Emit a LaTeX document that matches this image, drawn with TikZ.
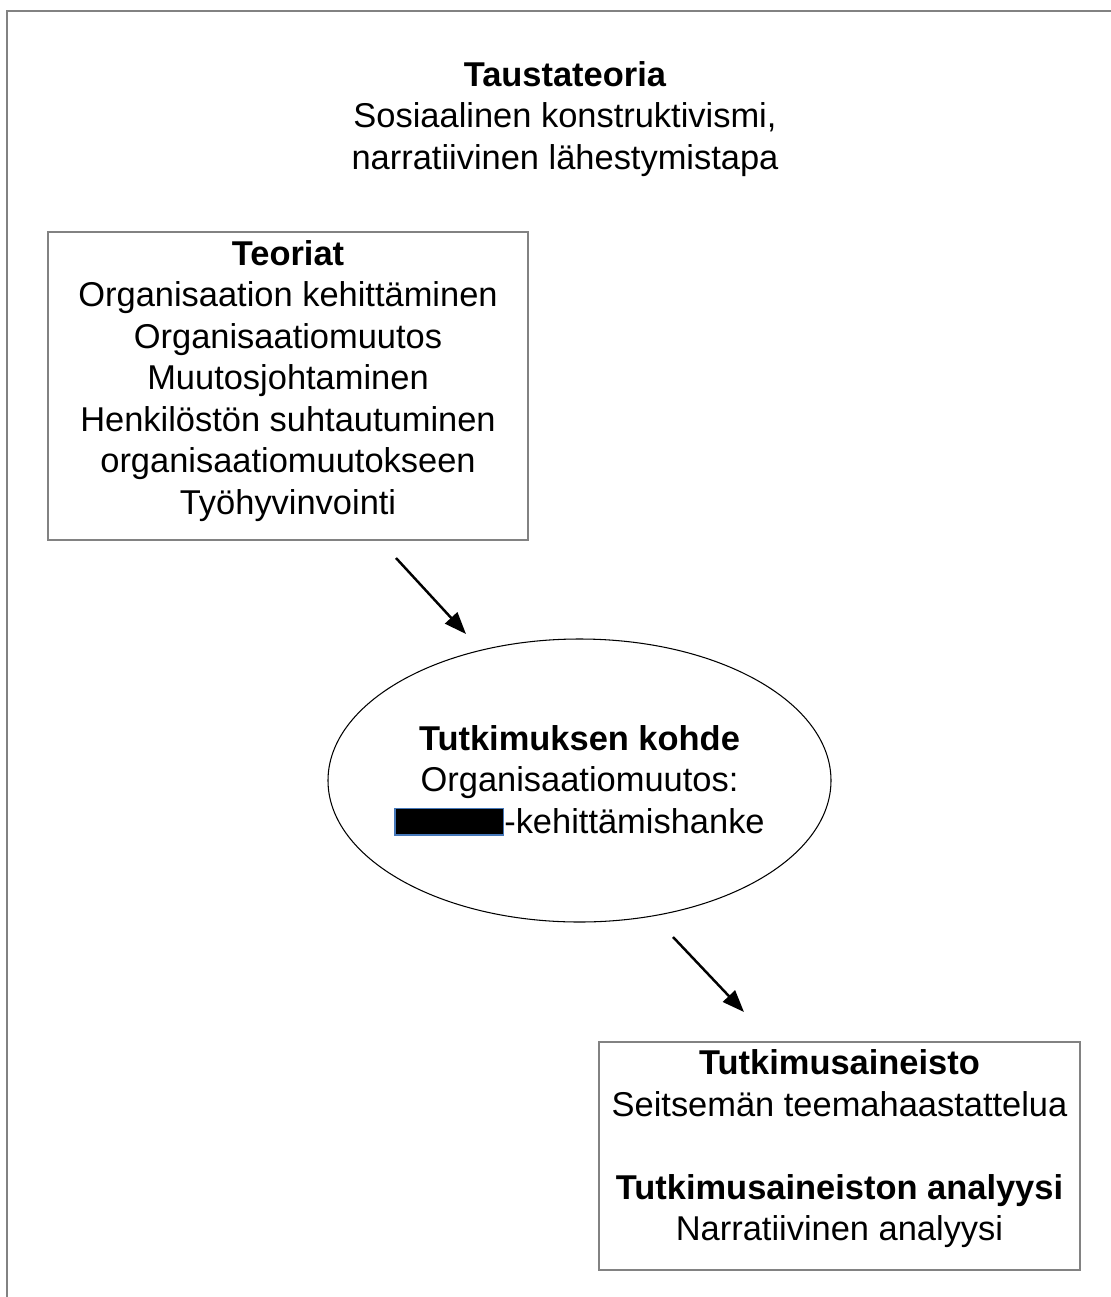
\documentclass[tikz,border=0pt]{standalone}
\usepackage{fontspec}
\setmainfont{Liberation Sans}
\usetikzlibrary{arrows.meta,shapes.geometric,positioning}

\definecolor{framegray}{RGB}{130,130,130}
\definecolor{redactblue}{RGB}{70,120,185}

\tikzstyle{txt} = [align=center, inner sep=0pt,
    font=\fontsize{19.6}{23.6}\selectfont]
\tikzstyle{block} = [txt, draw=framegray, line width=0.6pt, rectangle]
\tikzstyle{target} = [txt, draw, ellipse, line width=0.6pt, inner xsep=-0.15cm]
\tikzstyle{link} = [draw, line width=1.4pt, -{Triangle[length=4.4mm,width=3.3mm]}]

\newcommand{\redacted}{{\setlength{\fboxsep}{0pt}\setlength{\fboxrule}{0.7pt}%
    \raisebox{-0.6pt}{\fcolorbox{redactblue}{black}{\rule{0pt}{0.51cm}\hspace{2.15cm}}}}}

\begin{document}
\begin{tikzpicture}[auto, node distance=2cm]
    \useasboundingbox (0,0) rectangle (22.22,-25.94);
    \draw [framegray, line width=0.8pt] (22.22,-0.22) -- (0.14,-0.22) -- (0.14,-25.94);

    \node [txt] (tausta) at (11.3,-2.38) {\textbf{Taustateoria}\\Sosiaalinen konstruktivismi,\\narratiivinen lähestymistapa};
    \node [block, minimum width=9.6cm, minimum height=6.16cm, text depth=0.35cm] (teoriat) at (5.76,-7.72)
        {\textbf{Teoriat}\\Organisaation kehittäminen\\Organisaatiomuutos\\Muutosjohtaminen\\Henkilöstön suhtautuminen\\organisaatiomuutokseen\\Työhyvinvointi};
    \node [target, minimum width=10.06cm, minimum height=5.66cm] (kohde) at (11.59,-15.61)
        {\textbf{Tutkimuksen kohde}\\Organisaatiomuutos:\\\redacted-kehittämishanke};
    \node [block, minimum width=9.62cm, minimum height=4.56cm, text depth=0.43cm] (aineisto) at (16.79,-23.12)
        {\textbf{Tutkimusaineisto}\\Seitsemän teemahaastattelua\\[23.6pt]\textbf{Tutkimusaineiston analyysi}\\Narratiivinen analyysi};

    \coordinate (a1) at (7.92,-11.16);
    \coordinate (a2) at (9.32,-12.68);
    \coordinate (b1) at (13.46,-18.74);
    \coordinate (b2) at (14.88,-20.24);
    \draw [link] (a1) -- (a2);
    \draw [link] (b1) -- (b2);
\end{tikzpicture}
\end{document}
